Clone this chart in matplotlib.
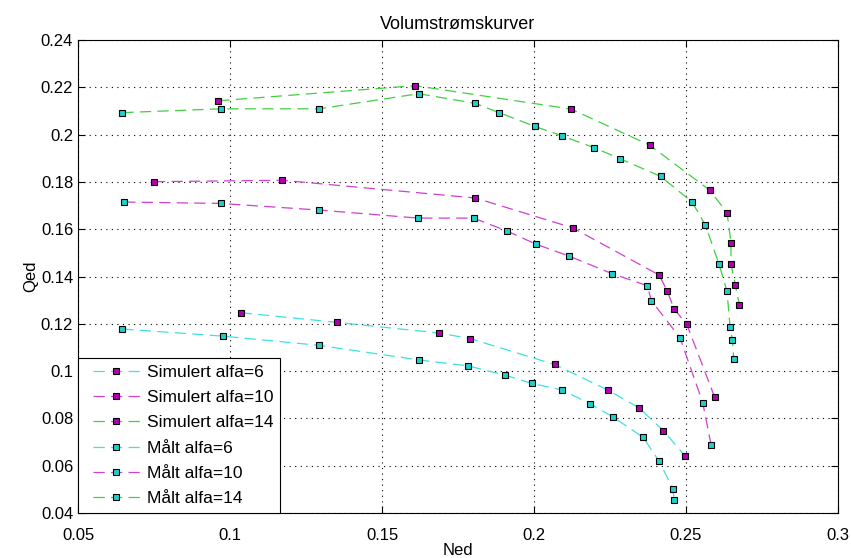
import matplotlib
matplotlib.use('Agg')
import matplotlib.pyplot as plt
from matplotlib.lines import Line2D
from matplotlib.legend_handler import HandlerLine2D

plt.rcParams['font.family'] = ['Liberation Sans', 'DejaVu Sans']

# Simulert (beregnet) kurver
sim6_ned = [0.1035, 0.1352, 0.1689, 0.1791, 0.2068, 0.2243, 0.2345, 0.2426, 0.2497]
sim6_qed = [0.1247, 0.1206, 0.1161, 0.1137, 0.1028, 0.0920, 0.0845, 0.0748, 0.0641]

sim10_ned = [0.0750, 0.1172, 0.1807, 0.2127, 0.2412, 0.2439, 0.2461, 0.2502, 0.2594]
sim10_qed = [0.1801, 0.1807, 0.1732, 0.1606, 0.1406, 0.1337, 0.1262, 0.1200, 0.0891]

sim14_ned = [0.0962, 0.1609, 0.2122, 0.2381, 0.2578, 0.2635, 0.2648, 0.2648, 0.2662, 0.2676]
sim14_qed = [0.2143, 0.2207, 0.2108, 0.1955, 0.1765, 0.1670, 0.1543, 0.1453, 0.1365, 0.1280]

# Målte kurver
maalt6_ned = [0.0646, 0.0976, 0.1293, 0.1623, 0.1784, 0.1905, 0.1993, 0.2092, 0.2185,
              0.2260, 0.2359, 0.2412, 0.2457, 0.2461]
maalt6_qed = [0.1178, 0.1148, 0.1109, 0.1047, 0.1022, 0.0983, 0.0948, 0.0920, 0.0862,
              0.0806, 0.0720, 0.0618, 0.0503, 0.0457]

maalt10_ned = [0.0652, 0.0969, 0.1293, 0.1619, 0.1801, 0.1912, 0.2006, 0.2114, 0.2257,
               0.2373, 0.2386, 0.2480, 0.2555, 0.2583]
maalt10_qed = [0.1715, 0.1709, 0.1681, 0.1647, 0.1647, 0.1592, 0.1537, 0.1487, 0.1412,
               0.1361, 0.1298, 0.1142, 0.0867, 0.0686]

maalt14_ned = [0.0646, 0.0969, 0.1293, 0.1621, 0.1807, 0.1885, 0.2002, 0.2092, 0.2199,
               0.2283, 0.2417, 0.2520, 0.2564, 0.2609, 0.2635, 0.2645, 0.2653, 0.2657]
maalt14_qed = [0.2093, 0.2109, 0.2109, 0.2173, 0.2132, 0.2093, 0.2035, 0.1995, 0.1944,
               0.1898, 0.1823, 0.1715, 0.1617, 0.1451, 0.1337, 0.1187, 0.1131, 0.1052]

x_ticks = [0.05, 0.1, 0.15, 0.2, 0.25, 0.3]
x_ticklabels = ['0.05', '0.1', '0.15', '0.2', '0.25', '0.3']
y_ticks = [0.04, 0.06, 0.08, 0.1, 0.12, 0.14, 0.16, 0.18, 0.2, 0.22, 0.24]
y_ticklabels = ['0.04', '0.06', '0.08', '0.1', '0.12', '0.14', '0.16', '0.18', '0.2', '0.22', '0.24']

cyan = '#40e0e0'
magenta = '#d040d0'
green = '#40d040'
sim_face = '#b000b0'
maalt_face = '#20d0c8'

series = [
    (sim6_ned, sim6_qed, cyan, sim_face, 'Simulert alfa=6'),
    (sim10_ned, sim10_qed, magenta, sim_face, 'Simulert alfa=10'),
    (sim14_ned, sim14_qed, green, sim_face, 'Simulert alfa=14'),
    (maalt6_ned, maalt6_qed, cyan, maalt_face, 'Målt alfa=6'),
    (maalt10_ned, maalt10_qed, magenta, maalt_face, 'Målt alfa=10'),
    (maalt14_ned, maalt14_qed, green, maalt_face, 'Målt alfa=14'),
]

fig = plt.figure(figsize=(8.51, 5.58), dpi=100)
ax = fig.add_axes([0.0917, 0.0806, 0.893, 0.8477])

for xs, ys, lc, fc, lab in series:
    ax.plot(xs, ys, color=lc, linestyle=(0, (9, 5)), linewidth=0.9,
            marker='s', markersize=5, markerfacecolor=fc,
            markeredgecolor='black', markeredgewidth=0.8, label=lab)

ax.set_xlim(0.05, 0.3)
ax.set_ylim(0.04, 0.24)
ax.set_xticks(x_ticks)
ax.set_xticklabels(x_ticklabels)
ax.set_yticks(y_ticks)
ax.set_yticklabels(y_ticklabels)
ax.tick_params(direction='in', labelsize=12, length=5, width=0.8, top=True, right=True)
ax.tick_params(axis='x', pad=11)
ax.grid(True, linestyle=(0, (1, 4)), color='black', linewidth=0.8)
for sp in ax.spines.values():
    sp.set_linewidth(0.8)

ax.set_title('Volumstrømskurver', fontsize=13, pad=8)
ax.set_xlabel('Ned', fontsize=12, labelpad=0)
ax.set_ylabel('Qed', fontsize=12, labelpad=2)

leg = ax.legend(loc='lower left', fontsize=12.5, borderaxespad=0, fancybox=False,
                framealpha=1, edgecolor='black', handlelength=3.15, handletextpad=0.4,
                labelspacing=0.58, borderpad=0.4, numpoints=1,
                handler_map={Line2D: HandlerLine2D(xpad=0.45)})
leg.get_frame().set_linewidth(0.8)

fig.savefig('out.png', dpi=100)
